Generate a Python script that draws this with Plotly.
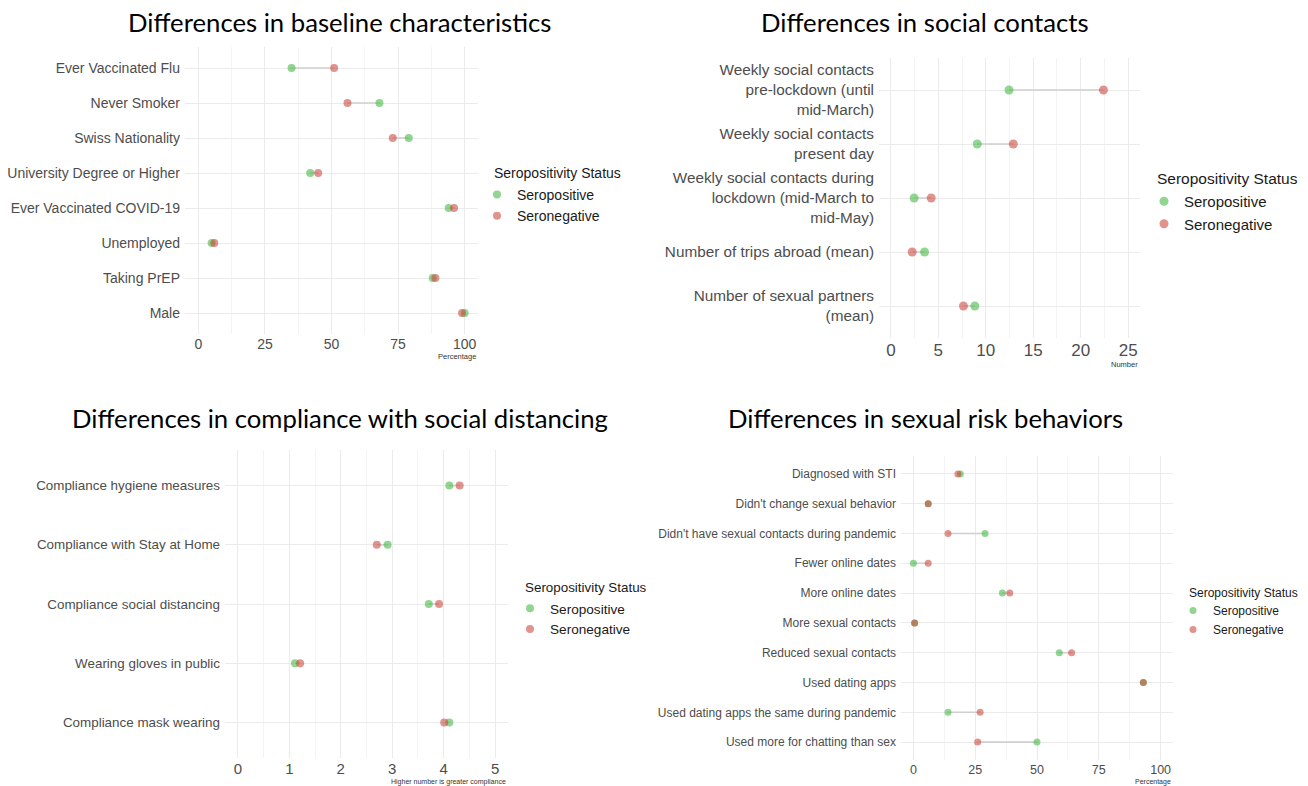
import plotly.graph_objects as go

W, H = 1308, 786

# ---------------- data ----------------
base_cats = ["Ever Vaccinated Flu", "Never Smoker", "Swiss Nationality",
             "University Degree or Higher", "Ever Vaccinated COVID-19",
             "Unemployed", "Taking PrEP", "Male"]
base_pos = [35, 68, 79, 42, 94, 5, 88, 100]
base_neg = [51, 56, 73, 45, 96, 6, 89, 99]

social_cats = ["Weekly social contacts<br>pre-lockdown (until<br>mid-March)",
               "Weekly social contacts<br>present day",
               "Weekly social contacts during<br>lockdown (mid-March to<br>mid-May)",
               "Number of trips abroad (mean)",
               "Number of sexual partners<br>(mean)"]
social_pos = [12.45, 9.1, 2.45, 3.55, 8.85]
social_neg = [22.4, 12.9, 4.25, 2.25, 7.65]

comp_cats = ["Compliance hygiene measures", "Compliance with Stay at Home",
             "Compliance social distancing", "Wearing gloves in public",
             "Compliance mask wearing"]
comp_pos = [4.11, 2.91, 3.71, 1.11, 4.11]
comp_neg = [4.31, 2.70, 3.91, 1.21, 4.01]

sex_cats = ["Diagnosed with STI", "Didn't change sexual behavior",
            "Didn't have sexual contacts during pandemic", "Fewer online dates",
            "More online dates", "More sexual contacts", "Reduced sexual contacts",
            "Used dating apps", "Used dating apps the same during pandemic",
            "Used more for chatting than sex"]
sex_pos = [19, 6, 29, 0, 36, 0.5, 59, 93, 14, 50]
sex_neg = [18, 6, 14, 6, 39, 0.5, 64, 93, 27, 26]

base_ticks = [0, 25, 50, 75, 100]
social_ticks = [0, 5, 10, 15, 20, 25]
comp_ticks = [0, 1, 2, 3, 4, 5]
sex_ticks = [0, 25, 50, 75, 100]

titles = ["Differences in baseline characteristics", "Differences in social contacts",
          "Differences in compliance with social distancing", "Differences in sexual risk behaviors"]
axis_titles = ["Percentage", "Number", "Higher number is greater compliance", "Percentage"]
legend_title = "Seropositivity Status"
series_names = ["Seropositive", "Seronegative"]

# ---------------- style ----------------
GREEN = "rgba(70,185,70,0.6)"
RED = "rgba(205,75,65,0.6)"
SEG = "#cfcfcf"
GRID = "#EBEBEB"
MINOR = "#F4F4F4"
LABEL_FONT = "Liberation Sans, Arial, sans-serif"
TITLE_FONT = "Lato, Open Sans, sans-serif"
TXT = "#4D4D4D"


def px_x(p):
    return p / W


def px_y(p):
    return 1 - p / H


panels = [
    dict(cats=base_cats, pos=base_pos, neg=base_neg, ticks=base_ticks, rng=[-5, 105],
         xd=(185, 478), yd=(47, 334), minor=12.5, lab=14, tick=14, ms=8,
         leg=(477, 179), legf=14, lt=(492, 173, 14), tc=(340, 22), aty=357, ats=7.5),
    dict(cats=social_cats, pos=social_pos, neg=social_neg, ticks=social_ticks, rng=[-1.25, 26.25],
         xd=(879, 1140), yd=(57.6, 338.4), minor=2.5, lab=15.3, tick=17, ms=9,
         leg=(1144, 185), legf=15, lt=(1155, 179, 15.5), tc=(925, 22), aty=364, ats=7.5),
    dict(cats=comp_cats, pos=comp_pos, neg=comp_neg, ticks=comp_ticks, rng=[-0.25, 5.25],
         xd=(225, 508), yd=(450, 758), minor=0.5, lab=13.4, tick=15, ms=8,
         leg=(510, 593), legf=13.6, lt=(523, 587, 13.4), tc=(340, 418), aty=781.5, ats=7),
    dict(cats=sex_cats, pos=sex_pos, neg=sex_neg, ticks=sex_ticks, rng=[-5, 105],
         xd=(901, 1173), yd=(456, 760), minor=12.5, lab=12, tick=12.5, ms=7,
         leg=(1173, 596), legf=12, lt=(1187, 593, 12), tc=(925, 418), aty=781.5, ats=7),
]

fig = go.Figure()
annotations = []
layout_axes = {}

for i, p in enumerate(panels):
    n = i + 1
    xa = "x" if n == 1 else f"x{n}"
    ya = "y" if n == 1 else f"y{n}"
    leg = "legend" if n == 1 else f"legend{n}"

    # connecting segments between the two groups
    sx, sy = [], []
    for c, a, b in zip(p["cats"], p["pos"], p["neg"]):
        sx += [a, b, None]
        sy += [c, c, None]
    fig.add_trace(go.Scatter(x=sx, y=sy, mode="lines", line=dict(color=SEG, width=1.6),
                             xaxis=xa, yaxis=ya, showlegend=False, hoverinfo="skip"))
    fig.add_trace(go.Scatter(x=p["pos"], y=p["cats"], mode="markers", name=series_names[0],
                             marker=dict(color=GREEN, size=p["ms"], line=dict(width=0)),
                             xaxis=xa, yaxis=ya, legend=leg))
    fig.add_trace(go.Scatter(x=p["neg"], y=p["cats"], mode="markers", name=series_names[1],
                             marker=dict(color=RED, size=p["ms"], line=dict(width=0)),
                             xaxis=xa, yaxis=ya, legend=leg))

    nc = len(p["cats"])
    xkey = "xaxis" if n == 1 else f"xaxis{n}"
    ykey = "yaxis" if n == 1 else f"yaxis{n}"
    layout_axes[xkey] = dict(
        domain=[px_x(p["xd"][0]), px_x(p["xd"][1])], range=p["rng"], anchor=ya,
        tickvals=p["ticks"], ticktext=[str(t) for t in p["ticks"]],
        showgrid=True, gridcolor=GRID, gridwidth=1.1, zeroline=False, showline=False,
        ticks="", tickfont=dict(family=LABEL_FONT, size=p["tick"], color=TXT),
        minor=dict(dtick=p["minor"], tick0=0, showgrid=True, gridcolor=MINOR, gridwidth=0.8),
        fixedrange=True,
    )
    layout_axes[ykey] = dict(
        domain=[px_y(p["yd"][1]), px_y(p["yd"][0])], anchor=xa, type="category",
        categoryorder="array", categoryarray=p["cats"], range=[nc - 0.4, -0.6],
        showgrid=True, gridcolor=GRID, gridwidth=1.1, zeroline=False, showline=False,
        ticks="", tickfont=dict(family=LABEL_FONT, size=p["lab"], color=TXT),
        ticklabelstandoff=4, fixedrange=True,
    )
    layout_axes[leg] = dict(
        x=px_x(p["leg"][0]), y=px_y(p["leg"][1]), xanchor="left", yanchor="top",
        font=dict(family=LABEL_FONT, size=p["legf"], color="#1a1a1a"),
        bgcolor="rgba(0,0,0,0)", itemwidth=30, tracegroupgap=0,
    )
    # legend title
    annotations.append(dict(text=legend_title, x=px_x(p["lt"][0]), y=px_y(p["lt"][1]),
                            xref="paper", yref="paper", xanchor="left", yanchor="middle",
                            showarrow=False,
                            font=dict(family=LABEL_FONT, size=p["lt"][2], color="#1a1a1a")))
    # panel title
    annotations.append(dict(text=titles[i], x=px_x(p["tc"][0]), y=px_y(p["tc"][1]),
                            xref="paper", yref="paper", xanchor="center", yanchor="middle",
                            showarrow=False, font=dict(family=TITLE_FONT, size=25.7, color="#000000")))
    # small axis title
    annotations.append(dict(text=axis_titles[i], x=1, xref=f"{xa} domain", y=px_y(p["aty"]),
                            yref="paper", xanchor="right", yanchor="middle", showarrow=False,
                            font=dict(family=LABEL_FONT, size=p["ats"], color="#333333")))

fig.update_layout(
    width=W, height=H, margin=dict(l=0, r=0, t=0, b=0),
    paper_bgcolor="white", plot_bgcolor="white",
    annotations=annotations, hovermode=False,
    **layout_axes,
)

# remove the browser's default 8px page margin so the figure fills the window exactly
fig.write_html("out.html", config={"displayModeBar": False},
               post_script="document.body.style.margin='0px';")
